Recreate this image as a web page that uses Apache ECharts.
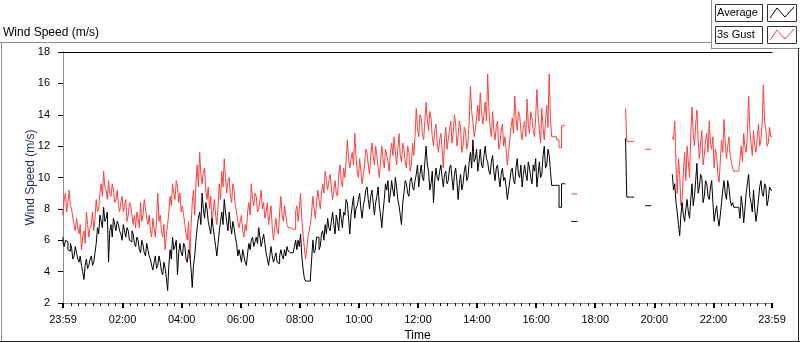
<!DOCTYPE html>
<html>
<head>
<meta charset="utf-8">
<title>Wind Speed</title>
<script src="https://cdn.jsdelivr.net/npm/echarts@6/dist/echarts.min.js"></script>
<style>
  html, body { margin: 0; padding: 0; background: #fff; }
  #main { width: 800px; height: 342px; }
</style>
</head>
<body>
<div id="main"></div>
<script>
// one sample every 2.5 minutes, x is minutes after 23:59
const stepMin = 2.5

// 3s gust, one row per hour
const gust = [
  8.0, 7.6, 8.6, 9.0, 7.8, 8.4, 9.2, 8.2, 8.0, 7.4, 7.0, 6.6, 7.4, 6.8, 6.4, 7.0, 5.4, 6.2, 6.6, 5.8, 7.8, 7.0, 6.2, 6.8,
  7.0, 7.8, 6.6, 7.4, 8.6, 7.8, 8.0, 9.0, 9.6, 8.8, 10.4, 9.4, 9.2, 8.6, 9.8, 9.0, 8.8, 9.6, 9.2, 8.4, 8.6, 9.2, 8.2, 7.8,
  8.4, 8.8, 7.8, 8.2, 8.6, 7.2, 7.6, 8.4, 8.2, 7.6, 7.0, 7.6, 6.8, 7.8, 7.4, 6.8, 8.4, 7.2, 7.6, 8.6, 8.0, 7.4, 7.0, 7.6,
  6.6, 6.2, 7.4, 6.8, 6.2, 7.2, 9.0, 7.2, 7.6, 6.6, 6.2, 7.0, 5.4, 6.4, 7.0, 7.8, 8.8, 8.2, 9.6, 9.0, 8.6, 9.8, 9.4, 8.4,
  9.0, 7.8, 8.2, 7.6, 7.0, 6.4, 6.0, 7.2, 4.8, 6.8, 8.4, 9.2, 7.6, 9.6, 10.8, 9.4, 11.6, 10.2, 9.6, 10.4, 10.6, 9.2, 8.6, 9.4,
  8.0, 8.8, 7.2, 7.8, 8.6, 7.6, 7.0, 8.2, 9.6, 8.6, 10.4, 9.4, 11.2, 10.0, 9.0, 9.8, 10.0, 8.8, 8.4, 9.6, 9.2, 8.2, 7.8, 7.2,
  6.8, 7.2, 7.6, 6.6, 6.2, 7.0, 6.6, 7.8, 8.4, 7.6, 9.6, 8.6, 8.2, 9.0, 8.8, 7.8, 8.0, 8.6, 9.2, 8.0, 8.4, 7.4, 7.8, 8.4,
  7.0, 7.6, 8.2, 6.8, 6.0, 6.8, 7.4, 6.6, 6.4, 7.8, 8.8, 7.6, 7.2, 8.2, 7.6, 7.0, 6.8, 6.8, 6.8, 6.7, 6.7, 6.7, 7.8, 8.2,
  7.2, 8.0, 9.0, 7.4, 6.4, 5.6, 4.8, 5.4, 6.2, 6.6, 7.0, 7.8, 8.8, 8.0, 7.4, 8.4, 9.2, 8.6, 8.0, 9.0, 9.6, 9.0, 10.4, 9.8,
  9.2, 9.8, 10.2, 9.4, 8.6, 9.2, 9.8, 9.0, 8.8, 10.2, 10.8, 9.8, 9.4, 10.6, 10.0, 11.0, 12.4, 11.2, 10.6, 11.2, 11.6, 10.8, 12.8, 11.4,
  10.4, 10.0, 11.2, 10.4, 9.6, 10.2, 10.8, 11.8, 11.6, 10.8, 10.2, 11.4, 12.2, 11.4, 10.8, 12.0, 11.4, 10.6, 10.0, 11.0, 12.0, 11.2, 10.6, 11.8,
  11.4, 11.0, 10.4, 11.6, 12.2, 11.4, 12.6, 11.6, 10.8, 11.8, 12.8, 11.4, 11.0, 12.2, 11.8, 11.0, 10.6, 12.0, 11.6, 10.4, 10.8, 12.2, 11.4, 12.6,
  14.4, 13.2, 12.6, 14.0, 13.8, 12.8, 12.4, 13.6, 14.8, 13.6, 13.0, 14.2, 13.8, 12.6, 12.0, 13.0, 13.4, 12.2, 11.6, 12.4, 12.8, 11.8, 10.6, 12.4,
  13.2, 11.8, 12.4, 13.0, 13.6, 12.2, 12.8, 14.0, 13.4, 12.0, 12.6, 13.6, 13.2, 11.6, 12.0, 13.2, 13.0, 11.8, 12.2, 13.6, 15.8, 14.2, 13.6, 12.6,
  13.0, 13.8, 14.6, 13.6, 15.4, 14.2, 13.4, 14.0, 14.8, 13.6, 16.6, 14.4, 13.2, 12.6, 14.2, 13.0, 12.4, 13.2, 13.6, 11.8, 12.2, 13.0, 13.4, 12.0,
  12.6, 11.8, 10.8, 11.6, 12.4, 13.2, 13.8, 12.8, 15.2, 13.8, 13.0, 14.2, 14.0, 13.0, 12.4, 13.2, 13.6, 12.6, 15.0, 13.4, 12.8, 14.2, 13.8, 13.0,
  12.6, 13.8, 15.6, 14.0, 13.0, 12.2, 14.4, 13.2, 12.4, 13.6, 14.6, 13.2, 16.6, 13.8, 12.6, 12.6, 12.6, 12.6, 12.4, 12.4, 11.9, 11.9, 13.3, 13.3,
  13.3, null, null, null, null, null, 8.95, 8.95, 8.95, 8.95, 8.95, null, null, null, null, null, null, null, null, null, null, null, null, null,
  null, null, null, null, null, null, null, null, null, null, null, null, null, null, null, null, null, null, null, null, null, null, null, null,
  null, null, 14.4, 12.3, 12.3, 12.3, 12.3, 12.3, 12.3, null, null, null, null, null, null, null, null, null, 11.8, 11.8, 11.8, 11.8, 11.8, null,
  null, null, null, null, null, null, null, null, null, null, null, null, null, null, null, null, 12.6, 12.4, 13.6, 10.8, 9.0, 11.2, 10.2, 8.2,
  8.6, 10.4, 11.6, 9.8, 12.0, 11.0, 10.0, 12.6, 14.5, 12.8, 12.0, 13.4, 14.3, 12.4, 11.2, 12.2, 13.0, 10.8, 11.4, 12.4, 12.8, 11.6, 13.6, 12.2,
  11.8, 12.6, 10.6, 11.8, 11.4, 10.2, 9.7, 11.0, 12.4, 11.6, 13.7, 12.2, 11.2, 12.0, 12.6, 11.4, 11.0, 10.6, 10.4, 10.4, 10.4, 10.4, 10.4, 11.2,
  12.0, 11.0, 12.8, 12.0, 11.6, 12.8, 15.2, 13.0, 12.2, 11.4, 13.0, 12.0, 11.6, 12.6, 13.4, 12.0, 12.4, 13.4, 15.9, 13.6, 13.0, 12.0, 12.2, 13.2,
  12.6
]

// average, one row per hour
const average = [
  6.2, 5.8, 5.6, 6.0, 5.9, 5.4, 5.3, 5.8, 5.5, 4.8, 5.0, 5.6, 5.2, 4.8, 4.6, 5.0, 4.4, 4.0, 3.5, 4.4, 4.8, 4.2, 4.4, 4.8,
  5.0, 4.4, 4.6, 5.2, 5.8, 6.8, 6.4, 7.6, 7.2, 6.8, 8.1, 7.2, 7.4, 7.8, 4.6, 6.6, 7.0, 6.2, 7.4, 7.0, 6.6, 7.2, 7.0, 6.6,
  6.4, 6.0, 7.0, 6.6, 6.2, 6.8, 6.6, 6.0, 5.9, 6.6, 6.4, 5.8, 5.6, 6.2, 6.0, 5.4, 5.2, 6.0, 5.7, 5.2, 5.0, 5.8, 5.4, 5.0,
  4.8, 4.4, 4.1, 4.6, 5.0, 4.2, 4.4, 5.0, 4.6, 4.0, 3.8, 4.6, 4.2, 3.6, 2.8, 4.4, 5.4, 4.8, 6.2, 5.4, 5.6, 6.0, 3.8, 5.2,
  5.8, 5.2, 5.0, 5.8, 5.6, 4.8, 4.6, 5.4, 5.2, 4.2, 3.0, 4.4, 5.0, 6.0, 6.8, 7.4, 7.8, 7.0, 9.0, 8.0, 7.4, 8.4, 8.0, 7.2,
  6.8, 6.4, 7.4, 6.8, 6.2, 5.6, 5.0, 5.8, 6.6, 7.2, 7.8, 7.0, 8.6, 7.8, 7.2, 6.6, 7.8, 7.0, 6.4, 7.2, 6.8, 6.2, 5.8, 5.0,
  5.4, 5.0, 4.6, 5.4, 5.0, 4.6, 4.4, 5.2, 5.8, 5.4, 6.0, 6.2, 5.6, 5.9, 6.2, 5.8, 6.8, 6.2, 5.6, 6.0, 6.4, 5.8, 5.2, 4.8,
  4.4, 5.0, 5.6, 5.0, 4.6, 4.9, 5.2, 4.6, 4.5, 5.0, 5.4, 5.0, 4.8, 5.4, 5.0, 5.6, 5.3, 5.2, 5.2, 5.2, 5.2, 5.6, 6.0, 5.4,
  6.0, 5.6, 6.4, 5.0, 4.2, 3.6, 3.4, 3.4, 3.4, 3.4, 3.6, 4.8, 6.0, 5.2, 5.4, 6.2, 6.2, 5.4, 5.6, 6.4, 6.6, 6.0, 7.0, 6.4,
  7.4, 6.8, 6.6, 7.2, 7.8, 7.0, 6.4, 7.6, 7.2, 6.6, 8.0, 7.4, 6.8, 7.8, 7.6, 8.6, 8.4, 7.4, 6.4, 7.6, 8.2, 8.8, 7.4, 8.0,
  8.2, 8.6, 9.0, 8.0, 7.4, 8.2, 8.6, 9.2, 9.4, 8.6, 8.0, 8.8, 9.2, 8.4, 7.6, 8.4, 8.8, 9.4, 8.2, 7.6, 6.8, 7.8, 8.6, 9.6,
  9.2, 9.8, 8.4, 9.0, 9.8, 9.2, 8.8, 10.0, 9.4, 8.6, 8.2, 7.6, 7.0, 8.4, 9.0, 9.8, 9.6, 9.0, 8.8, 9.8, 10.0, 9.4, 9.2, 9.8,
  10.2, 10.8, 9.4, 10.2, 10.8, 10.0, 9.8, 11.0, 12.0, 10.8, 10.4, 9.2, 9.6, 10.4, 8.4, 9.8, 10.6, 10.0, 9.8, 10.4, 10.8, 10.0, 9.4, 10.2,
  10.4, 9.6, 9.8, 10.6, 10.8, 10.0, 9.2, 10.2, 10.6, 9.8, 8.6, 9.6, 10.2, 9.2, 9.6, 10.4, 10.8, 9.8, 10.0, 11.0, 11.6, 10.6, 12.4, 11.0,
  11.2, 11.8, 10.4, 11.0, 11.8, 10.8, 10.6, 11.4, 12.0, 11.2, 11.0, 10.4, 10.2, 11.0, 11.4, 10.4, 9.8, 10.6, 10.8, 10.0, 9.4, 10.2, 10.6, 9.8,
  10.0, 9.4, 8.6, 9.2, 9.8, 10.4, 10.6, 9.8, 9.6, 10.6, 11.2, 10.2, 10.0, 10.8, 9.4, 10.2, 10.8, 10.2, 9.8, 11.0, 10.6, 10.0, 9.6, 10.8,
  10.4, 11.2, 9.4, 10.2, 11.0, 10.0, 10.2, 11.4, 12.0, 10.6, 10.8, 11.8, 11.4, 10.4, 9.5, 9.5, 9.5, 9.5, 9.5, 9.5, 8.1, 8.1, 9.6, 9.6,
  9.6, null, null, null, null, null, 7.2, 7.2, 7.2, 7.2, 7.2, null, null, null, null, null, null, null, null, null, null, null, null, null,
  null, null, null, null, null, null, null, null, null, null, null, null, null, null, null, null, null, null, null, null, null, null, null, null,
  null, null, 12.5, 8.75, 8.75, 8.75, 8.75, 8.75, 8.75, null, null, null, null, null, null, null, null, null, 8.2, 8.2, 8.2, 8.2, 8.2, null,
  null, null, null, null, null, null, null, null, null, null, null, null, null, null, null, null, 10.2, 9.2, 9.6, 8.4, 7.8, 7.0, 6.3, 7.6,
  8.4, 7.6, 7.2, 8.0, 8.6, 7.8, 7.4, 8.6, 9.6, 8.2, 8.8, 9.8, 10.9, 9.0, 9.4, 10.2, 10.0, 8.4, 8.8, 9.8, 9.6, 8.8, 8.6, 9.4,
  9.8, 8.4, 7.2, 7.8, 8.2, 7.4, 6.9, 7.6, 8.4, 9.2, 9.8, 9.0, 8.6, 9.8, 9.4, 8.6, 8.2, 8.4, 8.1, 8.1, 8.1, 8.1, 8.1, 7.4,
  8.8, 8.2, 7.1, 8.0, 9.0, 9.6, 10.2, 8.8, 8.4, 7.8, 9.2, 8.0, 7.2, 7.8, 8.6, 9.4, 9.8, 9.0, 8.8, 9.6, 9.4, 8.2, 8.6, 9.4,
  9.2
]

const majorTicks = [0, 121, 241, 361, 481, 601, 721, 841, 961, 1081, 1201, 1321, 1440]
const majorLabels = ['23:59', '02:00', '04:00', '06:00', '08:00', '10:00', '12:00',
  '14:00', '16:00', '18:00', '20:00', '22:00', '23:59']
// quarter hour ticks
const minorTicks = []
for (let c = 15; c < 1440; c += 15) {
  if (c % 120) minorTicks.push(c + 1)
}

const font = 'Liberation Sans'
const toPoints = arr => arr.map((v, i) => [i * stepMin, v])

const myChart = echarts.init(document.getElementById('main'))
myChart.setOption({
  animation: false,
  backgroundColor: '#fff',
  grid: {left: 63, right: 28, top: 52, bottom: 39, outerBoundsMode: 'none'},
  xAxis: [{
    type: 'value',
    min: 0,
    max: 1440,
    position: 'bottom',
    name: 'Time',
    nameLocation: 'middle',
    nameGap: 27,
    nameMoveOverlap: false,
    nameTextStyle: {color: '#000', fontSize: 12, fontFamily: font},
    axisLine: {show: true, lineStyle: {color: '#8c8c8c'}},
    axisTick: {show: true, length: 5, customValues: majorTicks, lineStyle: {color: '#000', width: 2}},
    axisLabel: {
      customValues: majorTicks,
      color: '#000',
      fontSize: 11,
      fontFamily: font,
      margin: 11,
      formatter: v => majorLabels[majorTicks.indexOf(v)]
    },
    splitLine: {show: false}
  }, {
    type: 'value',
    min: 0,
    max: 1440,
    position: 'bottom',
    axisLine: {show: false},
    axisTick: {show: true, length: 3, customValues: minorTicks, lineStyle: {color: '#000'}},
    axisLabel: {show: false},
    splitLine: {show: false}
  }, {
    type: 'value',
    min: 0,
    max: 1440,
    position: 'top',
    axisLine: {show: true, lineStyle: {color: '#000'}},
    axisTick: {show: false},
    axisLabel: {show: false},
    splitLine: {show: false}
  }],
  yAxis: [{
    type: 'value',
    min: 2,
    max: 18,
    interval: 2,
    name: 'Wind Speed (m/s)',
    nameLocation: 'middle',
    nameGap: 26,
    nameRotate: 90,
    nameMoveOverlap: false,
    nameTextStyle: {color: '#1a2b5e', fontSize: 12, fontFamily: font},
    axisLine: {show: true, lineStyle: {color: '#000'}},
    axisTick: {show: true, length: 5, lineStyle: {color: '#000'}},
    axisLabel: {color: '#000', fontSize: 11, fontFamily: font, margin: 13},
    splitLine: {show: false}
  }, {
    type: 'value',
    min: 2,
    max: 18,
    position: 'right',
    axisLine: {show: true, lineStyle: {color: '#8c8c8c'}},
    axisTick: {show: false},
    axisLabel: {show: false},
    splitLine: {show: false}
  }],
  series: [{
    name: '3s Gust',
    type: 'line',
    step: 'start',
    showSymbol: false,
    lineStyle: {color: '#ff4040', width: 1},
    data: toPoints(gust)
  }, {
    name: 'Average',
    type: 'line',
    step: 'start',
    showSymbol: false,
    lineStyle: {color: '#000', width: 1},
    data: toPoints(average)
  }],
  graphic: [
    {type: 'text', left: 3, top: 27, style: {text: 'Wind Speed (m/s)', fill: '#000', font: '12px "Liberation Sans"'}},
    // frame
    {type: 'line', shape: {x1: 0, y1: 42.5, x2: 712, y2: 42.5}, style: {stroke: '#8c8c8c'}},
    {type: 'line', shape: {x1: 1.5, y1: 42, x2: 1.5, y2: 342}, style: {stroke: '#8c8c8c'}},
    {type: 'line', shape: {x1: 0, y1: 341.5, x2: 800, y2: 341.5}, style: {stroke: '#222'}},
    {type: 'line', shape: {x1: 711.5, y1: 0, x2: 711.5, y2: 49}, style: {stroke: '#8c8c8c'}},
    {type: 'line', shape: {x1: 711, y1: 48.5, x2: 800, y2: 48.5}, style: {stroke: '#8c8c8c'}},
    {type: 'line', shape: {x1: 798.5, y1: 48, x2: 798.5, y2: 342}, style: {stroke: '#222'}},
    // legend
    {type: 'rect', shape: {x: 715.5, y: 4.5, width: 47, height: 17}, style: {fill: '#fff', stroke: '#333'}},
    {type: 'text', left: 717, top: 7, style: {text: 'Average', fill: '#000', font: '11px "Liberation Sans"'}},
    {type: 'rect', shape: {x: 767.5, y: 4.5, width: 29, height: 17}, style: {fill: '#fff', stroke: '#333'}},
    {type: 'polyline', shape: {points: [[770, 18], [777, 8], [785, 17], [794, 7]]}, style: {stroke: '#000', fill: null}},
    {type: 'rect', shape: {x: 715.5, y: 26.5, width: 47, height: 17}, style: {fill: '#fff', stroke: '#333'}},
    {type: 'text', left: 717, top: 29, style: {text: '3s Gust', fill: '#000', font: '11px "Liberation Sans"'}},
    {type: 'rect', shape: {x: 767.5, y: 26.5, width: 29, height: 17}, style: {fill: '#fff', stroke: '#333'}},
    {type: 'polyline', shape: {points: [[770, 40], [777, 30], [785, 39], [794, 29]]}, style: {stroke: '#ff4040', fill: null}}
  ]
})
</script>
</body>
</html>
